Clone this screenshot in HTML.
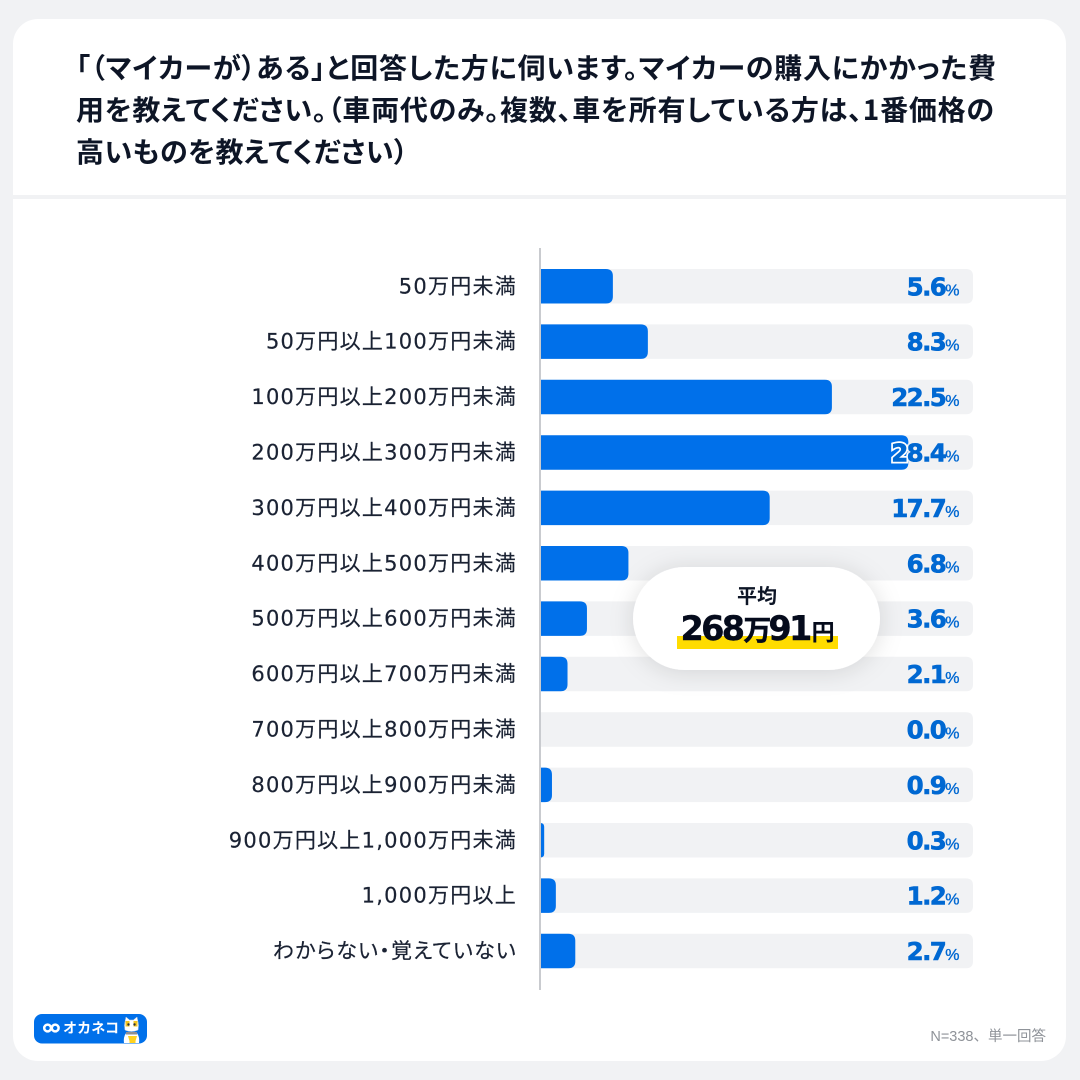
<!DOCTYPE html>
<html lang="ja">
<head>
<meta charset="utf-8">
<title>マイカーの購入費用</title>
<style>
html,body{margin:0;padding:0;background:#f1f2f4;}
body{width:1080px;height:1080px;overflow:hidden;}
svg{display:block;}
text{font-family:"Liberation Sans","Noto Sans CJK JP",sans-serif;}
.title{font-family:"Noto Sans CJK JP",sans-serif;font-weight:700;font-size:28px;fill:#0d1526;font-feature-settings:"palt";}
.cat{font-family:"DejaVu Sans","Noto Sans CJK JP",sans-serif;font-size:21px;fill:#1a2233;stroke:#1a2233;stroke-width:.2px;letter-spacing:1.25px;font-feature-settings:"palt";}
.val{font-family:"DejaVu Sans",sans-serif;font-weight:700;font-size:24.5px;fill:#0068d2;stroke:#0068d2;stroke-width:.6px;letter-spacing:-1.6px;}
.val.halo{fill:#fff;stroke:#fff;stroke-width:4px;}
.pct{font-family:"Liberation Sans",sans-serif;font-size:16px;font-weight:400;fill:#0068d2;stroke:#0068d2;stroke-width:.35px;letter-spacing:0;}
.halo .pct{fill:#fff;stroke:#fff;}
</style>
</head>
<body>
<svg id="chart" xmlns="http://www.w3.org/2000/svg" width="1080" height="1080" viewBox="0 0 1080 1080">
  <defs>
    <filter id="badge-shadow" x="-30%" y="-50%" width="160%" height="200%">
      <feDropShadow dx="0" dy="2" stdDeviation="12" flood-color="#000" flood-opacity="0.13"/>
    </filter>
  </defs>
  <rect width="1080" height="1080" fill="#f1f2f4"/>
  <rect x="13" y="19" width="1053" height="1042" rx="25" fill="#fff"/>
  <rect x="13" y="195" width="1053" height="4" fill="#f1f2f4"/>
  <g>
    <text class="title" x="76" y="78" textLength="920" lengthAdjust="spacing">「（マイカーが）ある」と回答した方に伺います。マイカーの購入にかかった費</text>
    <text class="title" x="76" y="120" textLength="918" lengthAdjust="spacing">用を教えてください。（車両代のみ。複数、車を所有している方は、1番価格の</text>
    <text class="title" x="76" y="162" textLength="332" lengthAdjust="spacing">高いものを教えてください）</text>
  </g>
  <g id="rows"></g>
  <rect x="539" y="248" width="2" height="742" fill="#c9cbcf"/>
  <g>
    <rect x="633" y="567" width="247" height="103" rx="51.5" fill="#fff" filter="url(#badge-shadow)"/>
    <rect x="677" y="636" width="161" height="13" fill="#ffdc00"/>
    <text x="757" y="603" text-anchor="middle" font-size="20" font-weight="700" fill="#0d1526" style="font-family:'Noto Sans CJK JP',sans-serif">平均</text>
    <text x="680.5" y="640" font-size="33.5" font-weight="700" fill="#050b1c" stroke="#050b1c" stroke-width=".4" letter-spacing="-2.7" style="font-family:'DejaVu Sans','Noto Sans CJK JP',sans-serif">268<tspan font-size="28" letter-spacing="-3" dx="1">万</tspan><tspan>91</tspan><tspan font-size="23" letter-spacing="0" dx="2" stroke-width=".1">円</tspan></text>
  </g>
  <g>
    <rect x="34" y="1014" width="113" height="29.5" rx="8" fill="#0070ea"/>
    <g fill="none" stroke="#fff" stroke-width="2.5">
      <circle cx="47.6" cy="1028" r="3.4"/>
      <circle cx="55.2" cy="1028" r="3.4"/>
    </g>
    <text x="63" y="1033" font-size="14" font-weight="700" fill="#fff" letter-spacing=".1" style="font-family:'Noto Sans CJK JP',sans-serif">オカネコ</text>
    <g>
      <path d="M124 1043 q-1 -7 3 -11 h9 q4 4 3 11z" fill="#fff"/>
      <path d="M125 1030 q-1 -5 0 -8 l1 -5 l3.5 3 h4 l3.5 -3 l1 5 q1 3 0 8 q-6.500 3 -13 0z" fill="#fff" stroke="#cfd2d6" stroke-width=".5"/>
      <path d="M125.500 1021 l4 0 l0 5.500 l-4 0z M133.500 1021 h4 v5.500 h-4z" fill="#f2c521"/>
      <circle cx="128.500" cy="1024.500" r="1.200" fill="#333"/>
      <circle cx="134.500" cy="1024.500" r="1.200" fill="#333"/>
      <path d="M126 1032 h11 v2.500 h-11z" fill="#8d8f94"/>
      <path d="M128 1036 h9 l-1.500 5 v2 h-6 v-2z" fill="#ffd21f"/>
    </g>
  </g>
  <text x="1046" y="1041" text-anchor="end" font-size="14.500" fill="#8f9399" style="font-family:'Liberation Sans','Noto Sans CJK JP',sans-serif">N=338、単一回答</text>
</svg>
<script>
const categories = ["50万円未満","50万円以上100万円未満","100万円以上200万円未満","200万円以上300万円未満","300万円以上400万円未満","400万円以上500万円未満","500万円以上600万円未満","600万円以上700万円未満","700万円以上800万円未満","800万円以上900万円未満","900万円以上1,000万円未満","1,000万円以上","わからない・覚えていない"];
const seriesValues = [5.6,8.3,22.5,28.4,17.7,6.8,3.6,2.1,0.0,0.9,0.3,1.2,2.7];

const NS = 'http://www.w3.org/2000/svg';
const rowsGroup = document.getElementById('rows');
const defs = document.querySelector('#chart defs');
const xZero = 540.3, xUnit = 12.96, trackRight = 973, firstTop = 269, rowStep = 55.4, barH = 34.5;
function xScale(v){ return xZero + v * xUnit; }
function yTop(i){ return firstTop + i * rowStep; }
function make(tag, attrs){
  const el = document.createElementNS(NS, tag);
  for (const k in attrs) el.setAttribute(k, attrs[k]);
  return el;
}
function barPath(x0, x1, y, h, r){
  const w = x1 - x0;
  const rr = Math.min(r, w);
  return 'M' + x0 + ' ' + y + 'H' + (x1 - rr) + 'Q' + x1 + ' ' + y + ' ' + x1 + ' ' + (y + rr) +
         'V' + (y + h - rr) + 'Q' + x1 + ' ' + (y + h) + ' ' + (x1 - rr) + ' ' + (y + h) + 'H' + x0 + 'Z';
}
categories.forEach(function(cat, i){
  const v = seriesValues[i];
  const y = yTop(i);
  const mid = y + barH / 2;
  const g = make('g', {});
  
  

  const label = make('text', {class: 'cat', x: 517, y: mid + 7, 'text-anchor': 'end'});
  
  
  label.textContent = cat;
  g.appendChild(label);

  const track = make('path', {d: barPath(xZero, trackRight, y, barH, 7), fill: '#f1f2f4'});
  
  
  g.appendChild(track);

  let barD = '';
  if (v > 0) {
    barD = barPath(xZero, xScale(v), y, barH, 7);
    const bar = make('path', {d: barD, fill: '#0070ea'});
    
    
    g.appendChild(bar);
  }

  const valueText = v.toFixed(1);
  if (v > 0 && xScale(v) > 885) {
    const clip = make('clipPath', {id: 'bar-clip-' + i});
    clip.appendChild(make('path', {d: barD}));
    defs.appendChild(clip);
    const halo = make('text', {class: 'val halo', x: 959.5, y: mid + 9, 'text-anchor': 'end', 'clip-path': 'url(#bar-clip-' + i + ')', 'aria-hidden': 'true'});
    
    
    const haloNum = make('tspan', {});
    haloNum.textContent = valueText;
    const haloPct = make('tspan', {class: 'pct'});
    haloPct.textContent = '%';
    halo.appendChild(haloNum);
    halo.appendChild(haloPct);
    g.appendChild(halo);
  }

  const value = make('text', {class: 'val', x: 959.5, y: mid + 9, 'text-anchor': 'end'});
  
  
  const num = make('tspan', {});
  num.textContent = valueText;
  const pct = make('tspan', {class: 'pct'});
  pct.textContent = '%';
  value.appendChild(num);
  value.appendChild(pct);
  g.appendChild(value);

  rowsGroup.appendChild(g);
});
</script>
</body>
</html>
